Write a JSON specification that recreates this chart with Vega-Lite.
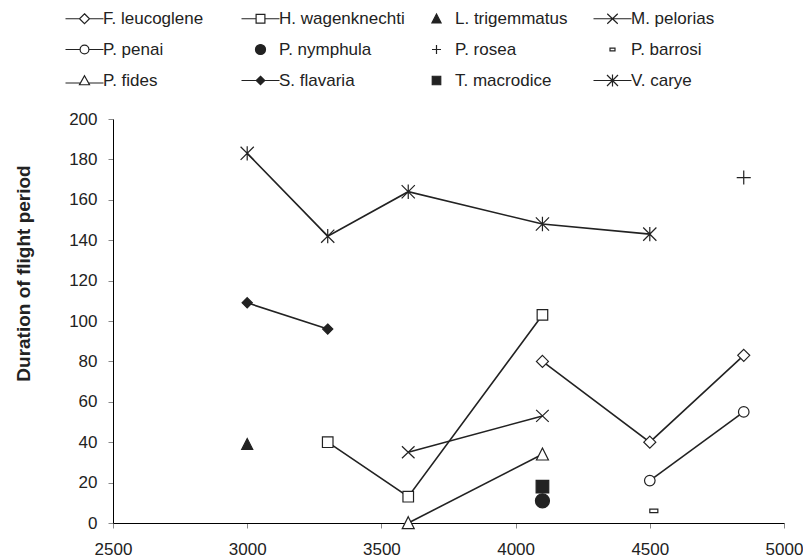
{
  "$schema": "https://vega.github.io/schema/vega-lite/v6.json",
  "width": 671,
  "height": 404,
  "autosize": {"type": "none"},
  "padding": {"left": 113, "top": 119, "right": 19, "bottom": 37},
  "background": "white",
  "config": {
    "view": {"stroke": null},
    "font": "Liberation Sans",
    "axis": {
      "grid": false,
      "domainColor": "#000000",
      "domainWidth": 1,
      "tickColor": "#888888",
      "tickSize": 5,
      "tickWidth": 1,
      "labelFont": "Liberation Sans",
      "labelFontSize": 17,
      "labelColor": "#222222",
      "titleFont": "Liberation Sans",
      "titleColor": "#222222"
    }
  },
  "data": {
    "values": [
      {"species": "F. leucoglene", "elevation": 4100, "duration": 80},
      {"species": "F. leucoglene", "elevation": 4500, "duration": 40},
      {"species": "F. leucoglene", "elevation": 4850, "duration": 83},
      {"species": "H. wagenknechti", "elevation": 3300, "duration": 40},
      {"species": "H. wagenknechti", "elevation": 3600, "duration": 13},
      {"species": "H. wagenknechti", "elevation": 4100, "duration": 103},
      {"species": "L. trigemmatus", "elevation": 3000, "duration": 39},
      {"species": "M. pelorias", "elevation": 3600, "duration": 35},
      {"species": "M. pelorias", "elevation": 4100, "duration": 53},
      {"species": "P. penai", "elevation": 4500, "duration": 21},
      {"species": "P. penai", "elevation": 4850, "duration": 55},
      {"species": "P. nymphula", "elevation": 4100, "duration": 11},
      {"species": "P. rosea", "elevation": 4850, "duration": 171},
      {"species": "P. barrosi", "elevation": 4515, "duration": 6},
      {"species": "P. fides", "elevation": 3600, "duration": 0},
      {"species": "P. fides", "elevation": 4100, "duration": 34},
      {"species": "S. flavaria", "elevation": 3000, "duration": 109},
      {"species": "S. flavaria", "elevation": 3300, "duration": 96},
      {"species": "T. macrodice", "elevation": 4100, "duration": 18},
      {"species": "V. carye", "elevation": 3000, "duration": 183},
      {"species": "V. carye", "elevation": 3300, "duration": 142},
      {"species": "V. carye", "elevation": 3600, "duration": 164},
      {"species": "V. carye", "elevation": 4100, "duration": 148},
      {"species": "V. carye", "elevation": 4500, "duration": 143}
    ]
  },
  "encoding": {
    "x": {
      "field": "elevation",
      "type": "quantitative",
      "scale": {"domain": [2500, 5000], "nice": false, "zero": false},
      "axis": {"title": null, "values": [2500, 3000, 3500, 4000, 4500, 5000], "format": "d", "labelPadding": 13, "labelFlush": false}
    },
    "y": {
      "field": "duration",
      "type": "quantitative",
      "scale": {"domain": [0, 200], "nice": false},
      "axis": {
        "title": "Duration of flight period",
        "values": [0, 20, 40, 60, 80, 100, 120, 140, 160, 180, 200],
        "format": "d",
        "labelPadding": 11,
        "labelFlush": false,
        "titleFontSize": 19,
        "titleFontWeight": "bold",
        "titleAngle": 270,
        "titleAlign": "center",
        "titleBaseline": "middle",
        "titleX": -90,
        "titleY": 154
      }
    }
  },
  "resolve": {"scale": {"shape": "independent", "fill": "independent", "stroke": "independent"}, "legend": {"shape": "independent", "fill": "independent", "stroke": "independent"}},
  "layer": [
    {
      "transform": [{"filter": {"field": "species", "oneOf": ["F. leucoglene", "H. wagenknechti", "M. pelorias", "P. penai", "P. fides", "S. flavaria", "V. carye"]}}],
      "mark": {"type": "line", "color": "#222222", "strokeWidth": 1.6},
      "encoding": {"detail": {"field": "species"}}
    },
    {
      "mark": {"type": "point", "size": 144, "stroke": "#222222", "strokeWidth": 1.2, "opacity": 1},
      "encoding": {
        "shape": {
          "field": "species",
          "type": "nominal",
          "legend": null,
          "scale": {
            "domain": ["F. leucoglene", "H. wagenknechti", "L. trigemmatus", "M. pelorias", "P. penai", "P. nymphula", "P. rosea", "P. barrosi", "P. fides", "S. flavaria", "T. macrodice", "V. carye"],
            "range": [
              "M0,-1L1,0L0,1L-1,0Z",
              "M-0.88,-0.88L0.88,-0.88L0.88,0.88L-0.88,0.88Z",
              "M0,-0.95L0.92,0.85L-0.92,0.85Z",
              "M-1.05,-1L1.05,1M-1.05,1L1.05,-1",
              "M-0.88,0A0.88,0.88,0,1,1,0.88,0A0.88,0.88,0,1,1,-0.88,0Z",
              "M-1.17,0A1.17,1.17,0,1,1,1.17,0A1.17,1.17,0,1,1,-1.17,0Z",
              "M-1.17,0L1.17,0M0,-1.17L0,1.17",
              "M-0.67,-0.28L0.67,-0.28L0.67,0.28L-0.67,0.28Z",
              "M0,-1.05L1,0.95L-1,0.95Z",
              "M0,-0.85L0.85,0L0,0.85L-0.85,0Z",
              "M-1.05,-1.05L1.05,-1.05L1.05,1.05L-1.05,1.05Z",
              "M-1.1,-1.1L1.1,1.1M-1.1,1.1L1.1,-1.1M0,-1.2L0,1.2"
            ]
          }
        },
        "fill": {
          "field": "species",
          "type": "nominal",
          "legend": null,
          "scale": {
            "domain": ["F. leucoglene", "H. wagenknechti", "L. trigemmatus", "M. pelorias", "P. penai", "P. nymphula", "P. rosea", "P. barrosi", "P. fides", "S. flavaria", "T. macrodice", "V. carye"],
            "range": ["#ffffff", "#ffffff", "#222222", "#ffffff", "#ffffff", "#222222", "#ffffff", "#ffffff", "#ffffff", "#222222", "#222222", "#ffffff"]
          }
        }
      }
    },
    {
      "transform": [{"filter": {"field": "duration", "lt": -1000}}],
      "mark": {"type": "point", "size": 100, "strokeWidth": 1.2, "opacity": 1},
      "encoding": {
        "shape": {
          "field": "species",
          "type": "nominal",
          "scale": {
            "domain": ["F. leucoglene", "H. wagenknechti", "L. trigemmatus", "M. pelorias", "P. penai", "P. nymphula", "P. rosea", "P. barrosi", "P. fides", "S. flavaria", "T. macrodice", "V. carye"],
            "range": [
              "M0,-1L1,0L0,1L-1,0ZM-3.8,0L-1,0M1,0L3.8,0",
              "M-0.88,-0.88L0.88,-0.88L0.88,0.88L-0.88,0.88ZM-3.8,0L-0.88,0M0.88,0L3.8,0",
              "M0,-0.95L0.92,0.85L-0.92,0.85Z",
              "M-1.05,-1L1.05,1M-1.05,1L1.05,-1M-3.8,0L3.8,0",
              "M-0.88,0A0.88,0.88,0,1,1,0.88,0A0.88,0.88,0,1,1,-0.88,0ZM-3.8,0L-0.88,0M0.88,0L3.8,0",
              "M-1,0A1,1,0,1,1,1,0A1,1,0,1,1,-1,0Z",
              "M-0.9,0L0.9,0M0,-0.9L0,0.9",
              "M-0.5,-0.28L0.5,-0.28L0.5,0.28L-0.5,0.28Z",
              "M0,-0.95L1,0.85L-1,0.85ZM-3.8,0.5L-0.8,0.5M0.8,0.5L3.8,0.5",
              "M0,-0.85L0.85,0L0,0.85L-0.85,0ZM-3.8,0L3.8,0",
              "M-0.85,-0.85L0.85,-0.85L0.85,0.85L-0.85,0.85Z",
              "M-1.1,-1.1L1.1,1.1M-1.1,1.1L1.1,-1.1M0,-1.2L0,1.2M-3.8,0L3.8,0"
            ]
          },
          "legend": {
            "title": null,
            "orient": "none",
            "direction": "horizontal",
            "legendX": -37,
            "legendY": -109,
            "columns": 4,
            "gridAlign": "all",
            "columnPadding": 10,
            "rowPadding": 13,
            "padding": 0,
            "symbolSize": 100,
            "symbolStrokeWidth": 1.2,
            "labelFont": "Liberation Sans",
            "labelFontSize": 17,
            "labelColor": "#222222",
            "labelOffset": 10,
            "labelLimit": 300
          }
        },
        "fill": {
          "field": "species",
          "type": "nominal",
          "scale": {
            "domain": ["F. leucoglene", "H. wagenknechti", "L. trigemmatus", "M. pelorias", "P. penai", "P. nymphula", "P. rosea", "P. barrosi", "P. fides", "S. flavaria", "T. macrodice", "V. carye"],
            "range": ["#ffffff", "#ffffff", "#222222", "#ffffff", "#ffffff", "#222222", "#ffffff", "#ffffff", "#ffffff", "#222222", "#222222", "#ffffff"]
          },
          "legend": {
            "title": null,
            "orient": "none",
            "direction": "horizontal",
            "legendX": -37,
            "legendY": -109,
            "columns": 4,
            "gridAlign": "all",
            "columnPadding": 10,
            "rowPadding": 13,
            "padding": 0,
            "symbolSize": 100,
            "symbolStrokeWidth": 1.2,
            "labelFont": "Liberation Sans",
            "labelFontSize": 17,
            "labelColor": "#222222",
            "labelOffset": 10,
            "labelLimit": 300
          }
        },
        "stroke": {
          "field": "species",
          "type": "nominal",
          "scale": {
            "domain": ["F. leucoglene", "H. wagenknechti", "L. trigemmatus", "M. pelorias", "P. penai", "P. nymphula", "P. rosea", "P. barrosi", "P. fides", "S. flavaria", "T. macrodice", "V. carye"],
            "range": ["#222222", "#222222", "#222222", "#222222", "#222222", "#222222", "#222222", "#222222", "#222222", "#222222", "#222222", "#222222"]
          },
          "legend": {
            "title": null,
            "orient": "none",
            "direction": "horizontal",
            "legendX": -37,
            "legendY": -109,
            "columns": 4,
            "gridAlign": "all",
            "columnPadding": 10,
            "rowPadding": 13,
            "padding": 0,
            "symbolSize": 100,
            "symbolStrokeWidth": 1.2,
            "labelFont": "Liberation Sans",
            "labelFontSize": 17,
            "labelColor": "#222222",
            "labelOffset": 10,
            "labelLimit": 300
          }
        }
      }
    }
  ]
}
